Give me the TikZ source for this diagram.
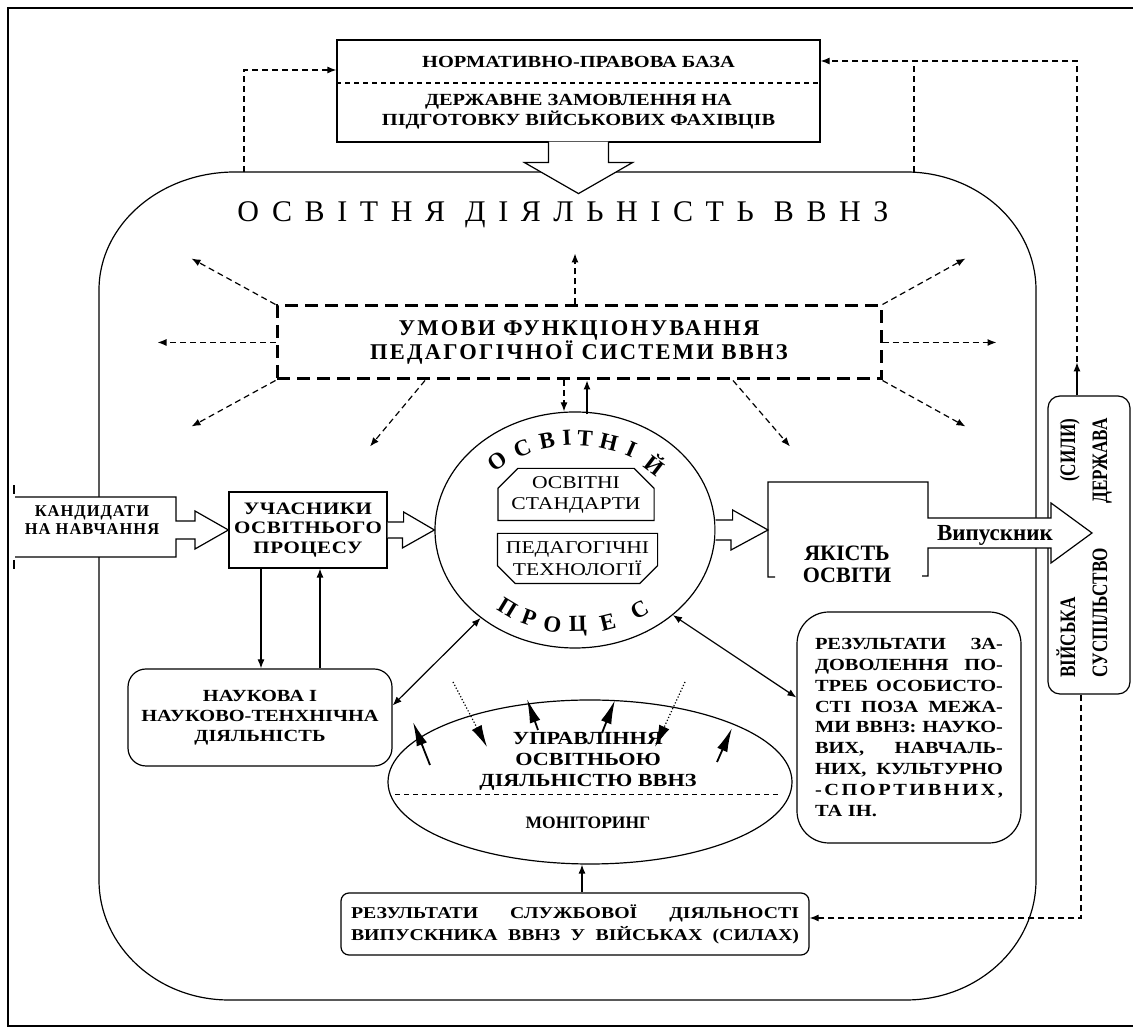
\documentclass[tikz,border=0pt]{standalone}
\usepackage{fontspec}
\setmainfont{Liberation Serif}
\newfontfamily\widefont{Liberation Serif}[FakeStretch=1.2]
\newfontfamily\narrowfont{Liberation Serif}[FakeStretch=0.78]
\usetikzlibrary{arrows.meta,shapes.geometric,calc}
\tikzset{
  plainbox/.style = {draw, fill=white, inner sep=0pt, align=center},
  roundbox/.style = {plainbox, rounded corners=#1},
  txtnode/.style = {inner sep=0pt, align=center},
  dasharr/.style = {->, dash pattern=on 6pt off 4pt},
  bigarr/.style = {-{Latex[length=24pt,width=11pt]}, line width=1.8pt},
  dotarr/.style = {-{Latex[length=22pt,width=11pt]}, dotted},
  circtxt/.style = {inner sep=0pt, font=\fontsize{23}{23}\selectfont\bfseries},
}
\newcommand{\bfs}[2]{\fontsize{#1}{#2}\selectfont\bfseries}
\newcommand{\wfs}[2]{\widefont\fontsize{#1}{#2}\selectfont\bfseries}
\newcommand{\spread}[2]{\makebox[#1][s]{#2}}

\begin{document}
\begin{tikzpicture}[x=1pt,y=1pt,line width=1.2pt,>={Latex[length=9pt,width=7pt]}]
\useasboundingbox (0,0) rectangle (1133,1030);
% frame
\draw (1140,1022) -- (8,1022) -- (8,4) -- (1140,4);

% big rounded box
\draw (235,858) -- (906,858) arc[start angle=90,end angle=0,x radius=130,y radius=118]
  -- (1036,150) arc[start angle=0,end angle=-90,x radius=130,y radius=120]
  -- (229,30) arc[start angle=270,end angle=180,x radius=130,y radius=120]
  -- (99,740) arc[start angle=180,end angle=90,x radius=136,y radius=118] -- cycle;
\coordinate (bbl) at (244,858);
\coordinate (bbr) at (914,858);

% top box
\node[plainbox, minimum width=483, minimum height=102] (topbox) at (578.5,939) {};
\node[txtnode, font=\wfs{17}{20}] (normbaza) at (578.5,968) {НОРМАТИВНО-ПРАВОВА БАЗА};
\node[txtnode, font=\wfs{17}{20}] (zamov) at (578.5,918) {ДЕРЖАВНЕ ЗАМОВЛЕННЯ НА\\ПІДГОТОВКУ ВІЙСЬКОВИХ ФАХІВЦІВ};
\draw[dash pattern=on 5pt off 4pt] ([yshift=8pt]topbox.west) -- ([yshift=8pt]topbox.east);
\draw[fill=white] ([xshift=-30pt,yshift=1pt]topbox.south) -- ++(0,-21) -- ++(-24,0)
  -- ++(54,-31) -- ++(54,31) -- ++(-24,0) -- ++(0,21);

% feedback lines
\draw[dasharr] (bbl) |- ([yshift=21pt]topbox.west);
\draw[dash pattern=on 6pt off 4pt] (bbr) -- (bbr |- 0,969);

\node[txtnode, font=\fontsize{30}{30}\selectfont\addfontfeature{LetterSpace=42}] (osvdial) at (563,815) {ОСВІТНЯ ДІЯЛЬНІСТЬ ВВНЗ};

% conditions
\node[plainbox, line width=3pt, dash pattern=on 13pt off 7pt, minimum width=604, minimum height=73,
  font=\bfs{22.5}{23}\addfontfeature{LetterSpace=10}] (umovy) at (579,687.5) {УМОВИ ФУНКЦІОНУВАННЯ\\ПЕДАГОГІЧНОЇ СИСТЕМИ ВВНЗ};
\foreach \anc/\dx/\dy in {north west/-84/46, west/-118/0, south west/-84/-46,
    north east/83/46, east/114/0, south east/83/-46}
  \draw[dasharr] (umovy.\anc) -- ++(\dx,\dy);
\draw[dasharr] ([xshift=-154pt]umovy.south) -- ++(-55,-66);
\draw[dasharr] ([xshift=154pt]umovy.south) -- ++(57,-66);
\draw[dasharr] ([xshift=-4pt]umovy.north) -- ++(0,51);

% process
\node[draw, ellipse, minimum width=280, minimum height=236, inner sep=0pt] (proc) at (575,500) {};
\draw[dasharr] ([xshift=-15pt]umovy.south) -- ([xshift=-15pt]umovy.south |- proc.north);
\draw[->] ([xshift=8pt,yshift=-3pt]umovy.south |- proc.north) -- ([xshift=8pt]umovy.south);
\foreach \l/\a in {О/132,С/117,В/104,І/94,Т/85,Н/73,І/61,Й/46}
  \path (proc.center) ++(\a:116 and 92) node[circtxt, rotate={atan2(-92*cos(\a),116*sin(\a))}] {\l};
\foreach \l/\a in {П/234,Р/246.5,О/258.7,Ц/271.5,Е/286.5,С/304}
  \path (proc.center) ++(\a:115 and 96) node[circtxt, rotate={atan2(96*cos(\a),-115*sin(\a))}] {\l};
\node[txtnode, minimum width=155, minimum height=51, font=\widefont\fontsize{18}{21}\selectfont] (std) at (576,535.5) {ОСВІТНІ\\СТАНДАРТИ};
\draw (std.south west) -- ([yshift=-20pt]std.north west) -- ([xshift=20pt]std.north west)
  -- ([xshift=-20pt]std.north east) -- ([yshift=-20pt]std.north east) -- (std.south east) -- cycle;
\node[txtnode, minimum width=159, minimum height=49, font=\widefont\fontsize{18}{22}\selectfont] (tech) at (577.5,471.5) {ПЕДАГОГІЧНІ\\ТЕХНОЛОГІЇ};
\draw (tech.north west) -- ([yshift=18pt]tech.south west) -- ([xshift=18pt]tech.south west)
  -- ([xshift=-18pt]tech.south east) -- ([yshift=18pt]tech.south east) -- (tech.north east) -- cycle;

% society box
\node[roundbox=12pt, minimum width=82, minimum height=298] (derzh) at (1089,485) {};
\coordinate (dtip) at ([xshift=-12pt,yshift=33pt]derzh.north);
\draw[->] ([xshift=-12pt]derzh.north) -- (dtip);
\draw[dasharr] (dtip) |- ([yshift=30pt]topbox.east);

% quality and graduate
\coordinate (qin) at (768,500);
\draw[fill=white] (775,453) -- (768,453) -- (768,548) -- (928,548) -- (928,512) -- (1051,512)
  -- (1051,527) -- (1092,497) -- (1051,467) -- (1051,482) -- (928,482) -- (928,454) -- (922,454);
\node[txtnode, font=\bfs{22}{22}] (yakist) at (847,466) {ЯКІСТЬ\\ОСВІТИ};
\node[txtnode, font=\bfs{23}{23}] (vypusk) at (995,495) {Випускник};
\draw[fill=white] ([yshift=10pt]proc.east) -- ++(17,0) -- ++(0,10) -- (qin)
  -- ++(-37,-20) -- ++(0,10) -- ([yshift=-10pt]proc.east);
\node[txtnode, rotate=90, text width=259pt, align=left, font=\narrowfont\bfs{22}{32}] (derzhtxt) at (1084,482)
  {\spread{259pt}{ВІЙСЬКА\hfill(СИЛИ)}\\\spread{259pt}{СУСПІЛЬСТВО\hfill ДЕРЖАВА}};

% participants
\node[plainbox, minimum width=158, minimum height=76, font=\wfs{17.5}{19.5}\addfontfeature{LetterSpace=3}] (uchas) at (308,500)
  {УЧАСНИКИ\\ОСВІТНЬОГО\\ПРОЦЕСУ};
\draw[fill=white] (15,533) -- (176,533) -- (176,509) -- (195,509) -- (195,519) -- (uchas.west)
  -- (195,481) -- (195,491) -- (176,491) -- (176,473) -- (15,473);
\draw (14,536) -- (14,545);
\draw (14,470) -- (14,461);
\node[txtnode, font=\bfs{16.5}{18}\addfontfeature{LetterSpace=6}] (kand) at (92,510) {КАНДИДАТИ\\НА НАВЧАННЯ};
\draw[fill=white] ([yshift=8pt]uchas.east) -- ++(16,0) -- ++(0,10) -- (proc.west)
  -- ++(-32,-18) -- ++(0,10) -- ([yshift=-8pt]uchas.east);

% science
\node[roundbox=18pt, minimum width=264, minimum height=97, font=\wfs{17}{20}] (nauk) at (260,312.5)
  {НАУКОВА І\\НАУКОВО-ТЕНХНІЧНА\\ДІЯЛЬНІСТЬ};
\draw[->] ([xshift=-47pt]uchas.south) -- ([xshift=-47pt]uchas.south |- nauk.north);
\draw[->] ([xshift=12pt]uchas.south |- nauk.north) -- ([xshift=12pt]uchas.south);
\draw[<->] ([yshift=12pt]nauk.east) -- (proc.223);

% personal results
\node[roundbox=32pt, minimum width=224, minimum height=231, text width=188pt, align=left, font=\wfs{17}{20.9}] (rezdov) at (909,302.5)
  {\spread{188pt}{РЕЗУЛЬТАТИ\hfill ЗА-}\\\spread{188pt}{ДОВОЛЕННЯ\hfill ПО-}\\
   \spread{188pt}{ТРЕБ\hfill ОСОБИСТО-}\\\spread{188pt}{СТІ\hfill ПОЗА\hfill МЕЖА-}\\
   \spread{188pt}{МИ\hfill ВВНЗ:\hfill НАУКО-}\\\spread{188pt}{ВИХ,\hfill НАВЧАЛЬ-}\\
   \spread{188pt}{НИХ,\hfill КУЛЬТУРНО}\\
   \spread{188pt}{-\hfill С\hfill П\hfill О\hfill Р\hfill Т\hfill И\hfill В\hfill Н\hfill И\hfill Х\hfill ,}\\ТА ІН.};
\draw[<->] (proc.319) -- ([yshift=30pt]rezdov.west);

% management
\node[draw, ellipse, minimum width=404, minimum height=164, inner sep=0pt] (uprav) at (590,248) {};
\node[txtnode, font=\wfs{18.5}{21}] (upravtxt) at (588,269) {УПРАВЛІННЯ\\ОСВІТНЬОЮ\\ДІЯЛЬНІСТЮ ВВНЗ};
\node[txtnode, font=\bfs{17.5}{20}] (monit) at (588,207) {МОНІТОРИНГ};
\begin{scope}[shift={(uprav.center)}]
  \draw[line width=1pt, dash pattern=on 5pt off 4pt] (-195,-13) -- (188,-13);
  \foreach \s/\e in {{(-160,17)}/{(-177,60)}, {(-52,52)}/{(-63,83)}, {(12,49)}/{(25,82)}, {(127,20)}/{(142,54)}}
    \draw[bigarr] \s -- \e;
  \foreach \s/\e in {{(-137,100)}/{(-103,35)}, {(95,100)}/{(65,35)}}
    \draw[dotarr] \s -- \e;
\end{scope}

% service results
\node[roundbox=8pt, minimum width=468, minimum height=62, text width=448pt, align=left, font=\wfs{16.5}{22}] (sluzh) at (575,106)
  {\spread{448pt}{РЕЗУЛЬТАТИ\hfill СЛУЖБОВОЇ\hfill ДІЯЛЬНОСТІ}\\
   \spread{448pt}{ВИПУСКНИКА\hfill ВВНЗ\hfill У\hfill ВІЙСЬКАХ\hfill (СИЛАХ)}};
\draw[->] ([xshift=7pt]sluzh.north) -- ([xshift=7pt]sluzh.north |- uprav.south);
\draw[dasharr] ([xshift=-8pt]derzh.south) |- ([yshift=6pt]sluzh.east);
\end{tikzpicture}
\end{document}
